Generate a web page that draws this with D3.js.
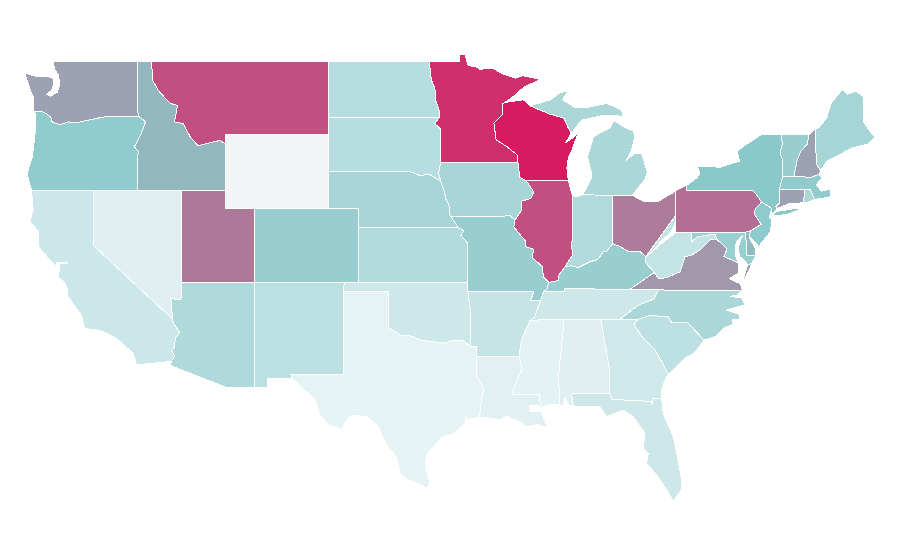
<!DOCTYPE html>
<html>
<head>
<meta charset="utf-8">
<style>
  html, body { margin: 0; background: #fff; }
  svg { display: block; }
</style>
<script src="https://d3js.org/d3.v7.min.js"></script>
</head>
<body>
<div id="root"></div>
<script>
// values, 0..100, null = no data
const stateNames = ['WA','OR','CA','NV','ID','MT','UT','AZ','NM','CO','ND','SD','NE','KS','OK','TX','MN','IA','MO','AR','LA','WI','IL','MI','IN','OH','KY','TN','MS','AL','GA','FL','SC','NC','VA','WV','PA','NY','VT','NH','ME','MA','CT','RI','NJ','DE','MD','WY'];
const stateValues = [61,47,14,3,55,85,73,30,23,43,26,26,34,29,13,0,94,34,43,17,2,100,85,32,29,72,43,13,1,3,12,13,22,32,64,19,76,50,43,61,35,47,61,32,48,54,42,null];

// shared borders, lon/lat
const columbia = [[-124.05,46.27],[-123.5,46.26],[-123.2,46.15],[-122.9,45.95],[-122.8,45.7],[-122.3,45.55],[-121.7,45.7],[-121.2,45.65],[-120.6,45.75],[-119.6,45.92],[-119,46],[-116.92,46]];
const snake = [[-116.92,46],[-116.46,45.7],[-116.85,44.9],[-117.23,44.35],[-116.96,44.1],[-117,43.8],[-117.03,42]];
const bitterroot = [[-116.05,49],[-116,47.97],[-115.6,47.4],[-114.8,46.7],[-114.3,46.6],[-114.5,45.7],[-113.9,45.6],[-113.45,44.9],[-112.9,44.4],[-112.45,44.5],[-111.4,44.7],[-111.05,44.5]];
const coloradoR = [[-114.63,35],[-114.57,34.8],[-114.14,34.27],[-114.45,34],[-114.5,33.5],[-114.7,33.3],[-114.5,33],[-114.72,32.72]];
const redNorth = [[-97.23,49],[-97.1,48],[-96.85,47.5],[-96.8,46.9],[-96.55,46.3],[-96.56,45.94]];
const bigStone = [[-96.56,45.94],[-96.85,45.6],[-96.45,45.3],[-96.45,43.5]];
const sdIa = [[-96.45,43.5],[-96.6,42.9],[-96.45,42.48]];
const neIa = [[-96.45,42.48],[-96.25,42],[-96.1,41.5],[-95.9,41.2],[-95.85,40.7],[-95.77,40.58]];
const moKs = [[-95.77,40.58],[-95.3,40],[-94.9,39.8],[-95.1,39.55],[-94.61,39.11]];
const mnWi = [[-92.1,46.75],[-92.29,46.66],[-92.29,46.07],[-92.85,45.64],[-92.7,44.72],[-91.95,44.35],[-91.27,43.9],[-91.22,43.5]];
const iaWi = [[-91.22,43.5],[-91.1,42.7],[-90.64,42.5]];
const iaIl = [[-90.64,42.5],[-90.15,41.9],[-90.35,41.55],[-90.98,41.4],[-90.98,40.9],[-91.43,40.38]];
const moIl = [[-91.43,40.38],[-91.5,40],[-90.72,39.25],[-90.7,38.95],[-90.15,38.8],[-90.25,38.35],[-89.55,37.85],[-89.5,37.3],[-89.13,37]];
const moKy = [[-89.13,37],[-89.27,36.6],[-89.5,36.5]];
const arTn = [[-89.7,36],[-90.1,35.1],[-90.36,34.95]];
const arMs = [[-90.36,34.95],[-90.6,34.6],[-90.97,33.9],[-91.08,33.4],[-91.12,33]];
const laMs = [[-91.12,33],[-91.08,32.8],[-90.97,32.25],[-91.54,31.17],[-91.6,30.95],[-89.73,30.95],[-89.77,30.62],[-89.6,30.23]];
const ohioIl = [[-89.13,37],[-88.45,37.1],[-88.45,37.4],[-88.03,37.85]];
const ohioIn = [[-88.03,37.85],[-87.6,37.9],[-87.13,37.8],[-86.33,38.12],[-85.8,38.25],[-85.43,38.66],[-85.2,38.7],[-84.8,39.1]];
const ohioOh = [[-84.8,39.1],[-84.3,38.95],[-83.7,38.66],[-82.94,38.66],[-82.55,38.4]];
const ohioWv = [[-82.55,38.4],[-82.2,38.6],[-81.75,39],[-81.6,39.2],[-80.85,39.7],[-80.57,40.2],[-80.52,40.64]];
const wabash = [[-88.03,37.85],[-87.5,38.5],[-87.6,39.1],[-87.53,39.35],[-87.52,41.7]];
const redSouth = [[-100,34.55],[-99.6,34.35],[-99.2,34.15],[-98.5,34.1],[-97.75,33.87],[-96.95,33.78],[-96.25,33.7],[-95.6,33.87],[-95,33.87],[-94.45,33.55]];
const sabine = [[-94.04,33],[-94.04,32],[-93.55,31.2],[-93.7,30.6],[-93.75,30.1],[-93.85,29.7]];
const kyWv = [[-82.55,38.4],[-82.6,38.1],[-81.97,37.54]];
const vaWv = [[-77.72,39.32],[-78.2,39.3],[-78.9,38.75],[-79.44,38.48],[-79.9,38.39],[-80.23,37.57],[-81.2,37.25],[-81.7,37.2],[-81.97,37.54]];
const mdWv = [[-79.46,39.72],[-79.46,39.2],[-79.05,39.47],[-78.43,39.56],[-77.85,39.6],[-77.72,39.32]];
const potomac = [[-76.3,38.05],[-76.96,38.3],[-77.25,38.4],[-77.05,38.8],[-77.2,38.95],[-77.72,39.32]];
const savannah = [[-83.1,35],[-83.35,34.7],[-82.75,34],[-81.9,33.3],[-81.4,32.6],[-81.1,32.1],[-80.9,32.05]];
const ncSc = [[-83.1,35],[-82.3,35.2],[-81.05,35.15],[-80.8,34.82],[-79.68,34.8],[-78.6,33.87]];
const tnNc = [[-84.3,35],[-83.1,35.75],[-82,36.1],[-81.68,36.59]];
const delaware = [[-75.45,39.8],[-74.72,40.15],[-75.2,40.7],[-75.13,40.98],[-74.7,41.36]];
const paNy = [[-74.7,41.36],[-75.05,41.75],[-75.35,42]];
const vtNy = [[-73.35,45],[-73.3,44.5],[-73.45,44],[-73.25,43.6],[-73.27,42.75]];
const vtNh = [[-71.5,45],[-71.6,44.5],[-72.05,44.1],[-72.3,43.6],[-72.45,43],[-72.45,42.73]];
const neMa = [[-72.45,42.73],[-71.3,42.7],[-70.82,42.87]];
const rev = a => a.slice().reverse();

const shapes = {
  WA: [[[-122.76,49],[-122.6,48.5],[-122.35,48.2],[-122.3,47.7],[-122.45,47.3],[-122.9,47.1],[-123.15,47.2],[-122.85,47.4],[-122.7,47.75],[-122.75,48.1],[-123.1,48.15],[-123.9,48.17],[-124.65,48.35],[-124.3,47.45],[-124.05,47],...columbia,[-117.04,46.4],[-117.04,49]]],
  OR: [[...columbia,...snake.slice(1),[-120,42],[-124.2,42],[-124.5,42.9],[-124.15,43.8],[-123.97,44.9],[-123.9,46.07]]],
  CA: [[[-124.2,41.97],[-120,42],[-120,39],[-114.63,35],...coloradoR.slice(1),[-117.07,32.53],[-117.3,33.15],[-118.43,33.96],[-119.55,34.4],[-120.6,34.5],[-120.8,35.2],[-121.8,36.3],[-121.75,36.6],[-121.93,36.95],[-122.4,37.3],[-122.3,37.7],[-122.3,38],[-121.7,38.05],[-122.5,38.1],[-122.5,37.85],[-122.95,38.2],[-123.74,38.94],[-123.74,39.75],[-124.3,40.3],[-124.08,40.93]]],
  NV: [[[-120,42],[-114.04,42],[-114.04,36.2],[-114.1,36.05],[-114.75,36.13],[-114.63,35],[-120,39]]],
  ID: [[[-117.04,49],...bitterroot,[-111.05,42],...rev(snake),[-117.04,46.4]]],
  MT: [[...bitterroot,[-111.05,45],[-104.05,45],[-104.05,49]]],
  WY: [[[-111.05,45],[-104.05,45],[-104.05,41],[-111.05,41]]],
  UT: [[[-114.04,42],[-111.05,42],[-111.05,41],[-109.05,41],[-109.05,37],[-114.04,37]]],
  AZ: [[[-114.04,37],[-109.05,37],[-109.05,31.33],[-111.07,31.33],[-114.8,32.5],...rev(coloradoR),[-114.75,36.13],[-114.1,36.05],[-114.04,36.2]]],
  CO: [[[-109.05,41],[-102.05,41],[-102.05,37],[-109.05,37]]],
  NM: [[[-109.05,37],[-103,37],[-103.04,36.5],[-103.06,32],[-106.62,32],[-106.53,31.78],[-108.2,31.78],[-108.2,31.33],[-109.05,31.33]]],
  ND: [[[-104.05,49],...redNorth,[-104.05,45.94]]],
  SD: [[[-104.05,45.94],...bigStone,...sdIa.slice(1),[-96.7,42.6],[-97.2,42.85],[-97.9,42.8],[-98.5,43],[-104.05,43]]],
  NE: [[[-104.05,43],[-98.5,43],[-97.9,42.8],[-97.2,42.85],[-96.7,42.6],...neIa,[-95.3,40],[-102.05,40],[-102.05,41],[-104.05,41]]],
  KS: [[[-102.05,40],...moKs.slice(1),[-94.61,37],[-102.05,37]]],
  OK: [[[-103,37],[-94.62,37],[-94.62,36.5],[-94.43,35.4],[-94.45,33.55],...rev(redSouth),[-100,36.5],[-103.04,36.5]]],
  TX: [[[-103.04,36.5],[-100,36.5],...redSouth,[-94.04,33.5],...sabine,[-94.7,29.55],[-94.75,29.75],[-94.8,29.35],[-95.1,29.15],[-95.6,28.8],[-96.4,28.6],[-96.9,28.1],[-97.3,27.8],[-97.5,27.4],[-97.4,26.8],[-97.2,26.1],[-97.4,25.85],[-97.6,25.95],[-98.65,26.3],[-99.2,26.65],[-99.45,27.55],[-100.13,28.2],[-100.7,29.18],[-101.4,29.7],[-102.27,29.8],[-102.7,29.7],[-103.17,29.04],[-104,29.25],[-104.65,29.8],[-105,30.7],[-106,31.35],[-106.53,31.78],[-106.62,32],[-103.06,32]]],
  MN: [[...redNorth.slice(0,1),[-95.15,49],[-95.15,49.38],[-94.8,49.35],[-94.6,48.75],[-94.1,48.7],[-93.8,48.55],[-92.95,48.62],[-92.4,48.35],[-91.4,48.07],[-90.9,48.2],[-89.68,48],[-90.8,47.6],[-91.5,47.1],...mnWi,[-96.45,43.5],...rev(bigStone),...rev(redNorth).slice(1)]],
  IA: [[[-96.45,43.5],[-91.22,43.5],...iaWi.slice(1),...iaIl.slice(1),[-91.72,40.6],[-95.77,40.58],...rev(neIa).slice(1),...rev(sdIa).slice(1)]],
  MO: [[[-95.77,40.58],[-91.72,40.6],[-91.43,40.38],...moIl.slice(1),...moKy.slice(1),[-89.7,36],[-90.37,36],[-90.15,36.5],[-94.62,36.5],[-94.62,37],[-94.61,39.11],...rev(moKs).slice(1)]],
  AR: [[[-94.62,36.5],[-90.15,36.5],[-90.37,36],...arTn,...arMs.slice(1),[-94.04,33],[-94.04,33.5],[-94.45,33.55],[-94.43,35.4]]],
  LA: [[...laMs,[-89.75,30.3],[-90.45,30.33],[-90.4,30],[-89.7,30],[-89.5,30],[-89.6,29.9],[-89.2,29.1],[-89.9,29.3],[-90.65,29.18],[-91.1,29.45],[-92,29.75],[-92.45,29.53],[-93.35,29.7],...rev(sabine)]],
  WI: [[[-92.1,46.75],[-90.85,46.9],[-90.4,46.57],[-89.1,46.13],[-88.1,45.9],[-87.8,45.35],[-87.6,45.1],[-88,44.55],[-87.4,44.9],[-87.1,45.2],[-87.55,44.2],[-87.8,43.8],[-87.9,43.2],[-87.8,42.5],[-90.64,42.5],...rev(iaWi).slice(1),...rev(mnWi).slice(1)]],
  IL: [[[-90.64,42.5],[-87.8,42.5],[-87.6,41.9],[-87.52,41.7],...rev(wabash).slice(1),...rev(ohioIl).slice(1),...rev(moIl).slice(1),...rev(iaIl).slice(1)]],
  MI: [[[-90.4,46.57],[-89,46.9],[-88.45,47.25],[-87.8,47.4],[-88.2,46.9],[-87.4,46.5],[-86.8,46.45],[-85.2,46.7],[-84.2,46.35],[-84.1,46],[-84.85,46.05],[-85.5,46.05],[-86.3,45.9],[-86.9,45.8],[-87.6,45.1],[-87.8,45.35],[-88.1,45.9],[-89.1,46.13]],
       [[-86.82,41.76],[-86.2,42.7],[-86.25,43],[-86.5,43.8],[-86.1,44.9],[-85.65,45.1],[-85,45.35],[-84.73,45.78],[-84.1,45.45],[-83.4,45.2],[-83.3,44.9],[-83.55,44.1],[-83.9,43.6],[-83.3,44],[-82.85,44],[-82.45,43],[-82.6,42.6],[-83.2,42],[-83.45,41.72],[-84.8,41.7]]],
  IN: [[[-87.52,41.7],[-87.2,41.65],[-86.82,41.76],[-84.8,41.7],[-84.8,39.1],...rev(ohioIn).slice(1),...wabash.slice(1,-1)]],
  OH: [[[-84.8,41.7],[-83.45,41.72],[-82.72,41.4],[-81.7,41.4],[-80.52,41.95],[-80.52,40.64],...rev(ohioWv).slice(1),...rev(ohioOh).slice(1)]],
  KY: [[...moKy,[-88.07,36.5],[-88.07,36.68],[-86.5,36.65],[-83.68,36.6],...rev(kyWv),...rev(ohioOh).slice(1),...rev(ohioIn).slice(1),...rev(ohioIl).slice(1)]],
  TN: [[[-90.36,34.95],[-90.1,35.1],[-89.7,36],[-89.5,36.5],[-88.07,36.5],[-88.07,36.68],[-86.5,36.65],[-83.68,36.6],...rev(tnNc),[-85.6,35],[-88.2,35]]],
  MS: [[[-90.36,34.95],[-88.2,35],[-88.1,34.9],[-88.47,31.9],[-88.37,30.35],[-88.9,30.4],...rev(laMs),...rev(arMs).slice(1)]],
  AL: [[[-88.2,35],[-85.6,35],[-85.15,32.9],[-85,32.3],[-85,31],[-87.58,30.95],[-87.47,30.3],[-87.8,30.35],[-88.03,30.72],[-88.15,30.35],[-88.37,30.35],[-88.47,31.9],[-88.1,34.9]]],
  GA: [[[-85.6,35],...savannah,[-81.14,31.9],[-81.48,31.17],[-81.48,30.72],[-82.04,30.71],[-82.16,30.35],[-82.2,30.55],[-84.87,30.66],[-85,31],[-85,32.3],[-85.15,32.9]]],
  FL: [[[-87.58,30.95],[-85,31],[-84.87,30.66],[-82.2,30.55],[-82.16,30.35],[-82.04,30.71],[-81.48,30.72],[-81.37,29.9],[-80.69,28.64],[-80.4,27.5],[-80.12,26.29],[-80.15,25.75],[-80.69,25.13],[-81.14,25.75],[-81.82,26.56],[-82.5,27.2],[-82.38,27.73],[-82.72,28],[-82.61,28.82],[-83.4,29.72],[-84.08,30.08],[-85.2,29.72],[-85.66,30.26],[-87.47,30.3]]],
  SC: [[...ncSc,[-79.2,33.2],[-79.9,32.88],[-80.7,32.25],...rev(savannah)]],
  NC: [[...tnNc,[-75.98,36.55],[-76.4,36.3],[-76.84,36.25],[-76.05,36.15],[-75.83,35.77],[-76.2,35.7],[-77.07,35.5],[-76.17,35.25],[-76.17,35],[-76.7,35],[-76.62,34.75],[-77.3,34.5],[-77.86,34.05],...rev(ncSc)]],
  VA: [[[-83.68,36.6],[-81.68,36.59],[-75.98,36.55],[-76.17,36.94],[-76.9,37.2],[-76.3,37.5],[-76.28,37.84],...potomac,...vaWv.slice(1)],
       [[-75.95,37.15],[-75.65,37.95],[-75.35,38.03],[-75.9,37.1]]],
  WV: [[...ohioWv.slice().reverse(),[-80.52,39.72],...mdWv,...vaWv.slice(1),...rev(kyWv)]],
  MD: [[...mdWv,...rev(potomac).slice(1),[-76.45,38.4],[-76.5,38.9],[-76.4,39.2],[-76,39.55],[-76.1,39.35],[-76.3,38.9],[-76.2,38.4],[-75.85,38.2],[-75.65,37.95],[-75.35,38.03],[-75.1,38.45],[-75.7,38.46],[-75.79,39.72]]],
  DE: [[[-75.79,39.72],[-75.45,39.8],[-75.55,39.45],[-75.1,38.8],[-75.1,38.45],[-75.7,38.46]]],
  PA: [[[-80.52,41.98],[-79.76,42.27],[-79.76,42],[-75.35,42],...rev(paNy).slice(1),...rev(delaware).slice(1),[-75.79,39.72],[-80.52,39.72],[-80.52,40.64]]],
  NY: [[[-79.76,42.27],[-79.05,42.7],[-78.9,42.9],[-79.05,43.27],[-77.5,43.25],[-76.5,43.5],[-76.2,43.55],[-76.35,44.1],[-75.8,44.45],[-74.75,45],...vtNy,[-73.5,42.05],[-73.5,41.3],[-73.73,41.1],[-73.65,41],[-74,40.7],[-74,41],...paNy,[-79.76,42]],
       [[-74,40.6],[-73.75,40.6],[-72.8,40.72],[-71.9,41.05],[-72.6,40.98],[-73.7,40.85]]],
  VT: [[...vtNy,...rev(vtNh)]],
  NH: [[[-71.5,45],[-71.08,45.3],[-70.98,43.4],[-70.7,43.07],[-70.82,42.87],...rev(neMa).slice(1),...rev(vtNh).slice(1)]],
  ME: [[[-71.08,45.3],[-70.8,45.4],[-70.3,45.9],[-70,46.7],[-69.23,47.46],[-68.9,47.2],[-68.3,47.35],[-67.8,47.07],[-67.8,45.7],[-67.45,45.3],[-67,44.85],[-67.5,44.5],[-68.5,44.3],[-69,44.1],[-69.8,43.75],[-70.25,43.6],[-70.7,43.07],[-70.98,43.4]]],
  MA: [[[-73.5,42.05],[-73.27,42.75],...neMa,[-70.6,42.65],[-71,42.3],[-70.65,41.95],[-70.05,42.05],[-70,41.65],[-70.65,41.55],[-71.12,41.5],[-71.38,42.02],[-71.8,42.02]]],
  CT: [[[-73.5,42.05],[-71.8,42.02],[-71.85,41.32],[-72.9,41.25],[-73.65,41],[-73.73,41.1],[-73.5,41.3]]],
  RI: [[[-71.8,42.02],[-71.38,42.02],[-71.12,41.5],[-71.5,41.37],[-71.85,41.32]]],
  NJ: [[...delaware.slice().reverse(),[-75.55,39.5],[-74.9,38.95],[-74.1,39.75],[-74,40.45],[-74.2,40.5],[-74,41]].reverse()]
};

const width = 900, height = 560;
const x = d3.scaleLinear().domain([-125, -67]).range([19.7, 875.2]);
const y = d3.scaleLinear().domain([49, 25]).range([61, 503.8]);
const color = d3.scaleLinear().domain([0, 50, 100]).range(['#e5f3f5', '#8bc8ca', '#d81b60']);

const path = d3.geoPath(d3.geoTransform({
  point(lon, lat) { this.stream.point(x(lon), y(lat)); }
}));

const features = stateNames.map((id, i) => ({
  type: 'Feature',
  id,
  properties: { value: stateValues[i] },
  geometry: { type: 'MultiPolygon', coordinates: shapes[id].map(ring => [ring.concat([ring[0]])]) }
}));

const svg = d3.select('#root').append('svg')
  .attr('width', width)
  .attr('height', height);

svg.append('g').selectAll('path')
  .data(features)
  .enter()
  .append('path')
  .attr('d', path)
  .attr('fill', d => d.properties.value === null ? '#f3f4f6' : color(d.properties.value))
  .attr('stroke', '#fff')
  .attr('stroke-width', 1)
  .attr('shape-rendering', 'crispEdges');
</script>
</body>
</html>
